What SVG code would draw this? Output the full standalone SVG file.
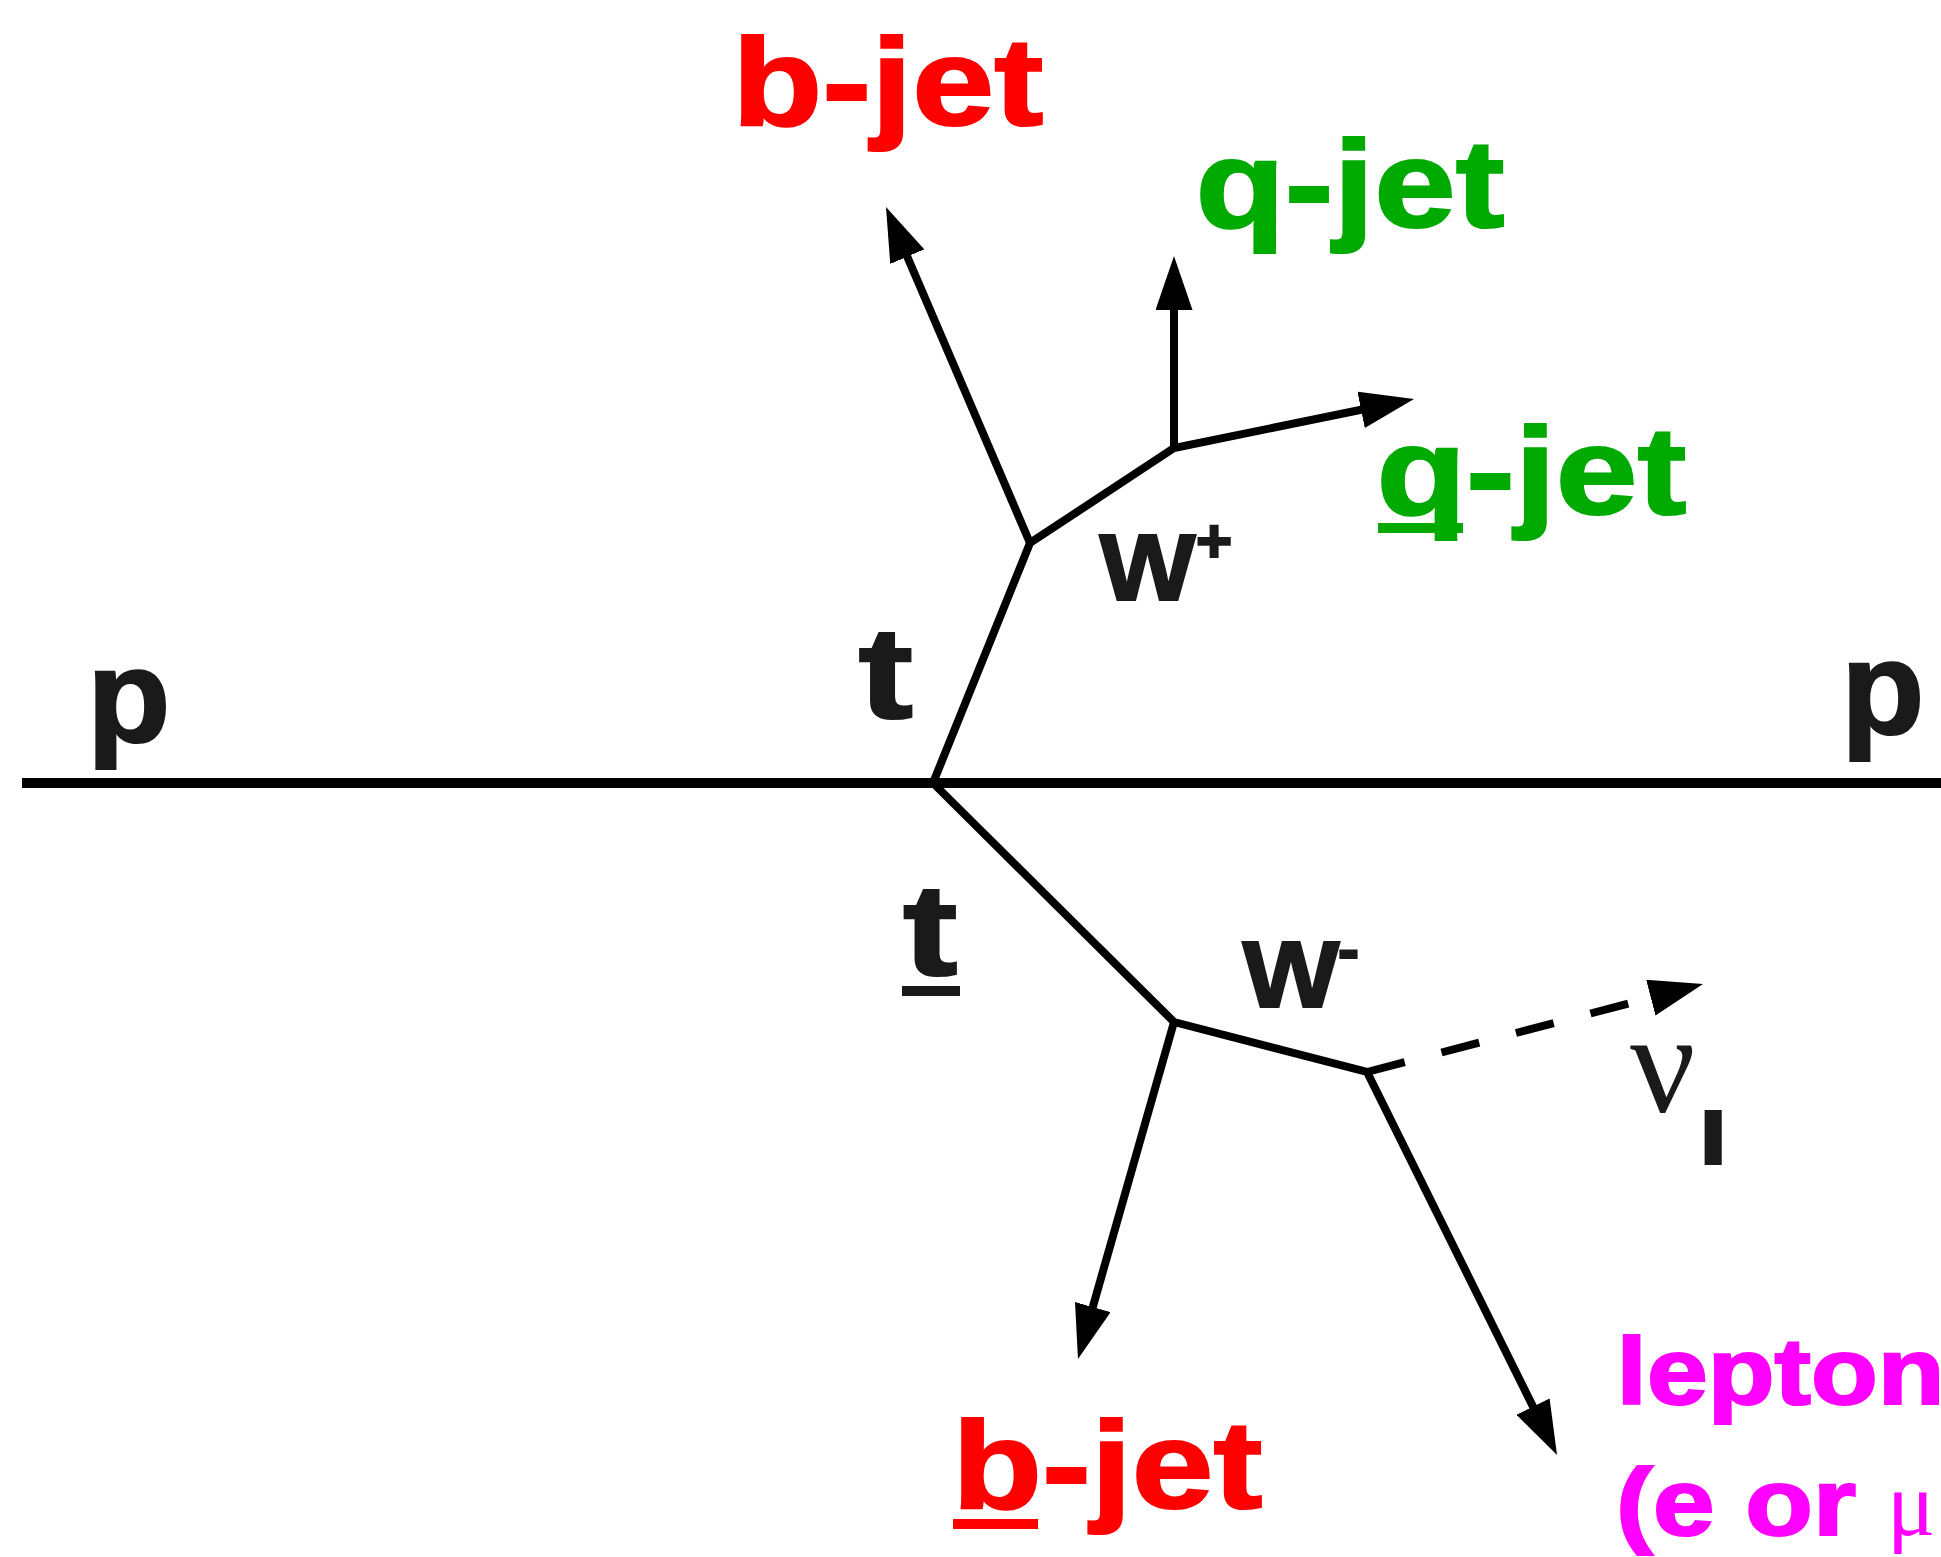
<svg xmlns="http://www.w3.org/2000/svg" width="1941" height="1557" viewBox="0 0 1941 1557">
<style>
.b{font-family:"Liberation Sans",Arial,sans-serif;font-weight:bold;stroke-width:2.2;stroke-linejoin:miter}
.k{fill:#1a1a1a;stroke:#1a1a1a}
.red{fill:#ff0000;stroke:#ff0000}
.grn{fill:#00aa00;stroke:#00aa00}
.mag{fill:#ff00ff;stroke:#ff00ff}
.ln{fill:none;stroke:#000;stroke-width:8;stroke-linejoin:miter}
</style>
<defs>
<marker id="ah" markerUnits="userSpaceOnUse" viewBox="0 0 54 37" markerWidth="54" markerHeight="37" refX="24" refY="18.5" orient="auto">
<path d="M0,0 L54,18.5 L0,37 z" fill="#000"/>
</marker>
<marker id="ah0" markerUnits="userSpaceOnUse" viewBox="0 0 54 37" markerWidth="54" markerHeight="37" refX="0" refY="18.5" orient="auto">
<path d="M0,0 L54,18.5 L0,37 z" fill="#000"/>
</marker>
</defs>
<rect width="1941" height="1557" fill="#fff"/>
<g id="connectors">
<line x1="22" y1="783" x2="1941" y2="783" stroke="#000" stroke-width="10"/>
<path class="ln" d="M933,783 L1030,543 L1174,448 L1384.6,405" marker-end="url(#ah)"/>
<path class="ln" d="M1030,543 L897.8,234.6" marker-end="url(#ah)"/>
<path class="ln" d="M1174,448 L1174,286" marker-end="url(#ah)"/>
<path class="ln" d="M933,783 L1174,1022 L1367,1072 L1543.7,1428.1" marker-end="url(#ah)"/>
<path class="ln" d="M1174,1022 L1086.2,1330.1" marker-end="url(#ah)"/>
<path class="ln" d="M1367,1072 L1650.8,997.7" stroke-dasharray="39 38" marker-end="url(#ah0)"/>
</g>
<g id="p-left"><text class="b k" x="87" y="742" font-size="131" textLength="83.5" lengthAdjust="spacingAndGlyphs">p</text></g>
<g id="p-right"><text class="b k" x="1841" y="734" font-size="131" textLength="83.5" lengthAdjust="spacingAndGlyphs">p</text></g>
<g id="t-top"><text class="b k" x="858.5" y="718" font-size="129" textLength="54.5" lengthAdjust="spacingAndGlyphs">t</text></g>
<g id="t-bar"><text class="b k" x="903" y="975" font-size="129" textLength="54.5" lengthAdjust="spacingAndGlyphs">t</text><rect x="902" y="986" width="58" height="10" fill="#1a1a1a"/></g>
<g id="w-plus"><text class="b k" x="1099.5" y="600" font-size="94" textLength="96" lengthAdjust="spacingAndGlyphs">W</text><text class="b k" x="1196" y="562" font-size="62">+</text></g>
<g id="w-minus"><text class="b k" x="1242.5" y="1007" font-size="94" textLength="97" lengthAdjust="spacingAndGlyphs">W</text><text class="b k" x="1338" y="970" font-size="62" textLength="21" lengthAdjust="spacingAndGlyphs">-</text></g>
<g id="bjet-top"><text class="b red" x="732.2" y="124.5" font-size="125" textLength="311.1" lengthAdjust="spacingAndGlyphs">b-jet</text></g>
<g id="qjet-top"><text class="b grn" x="1195.4" y="226.5" font-size="125" textLength="309" lengthAdjust="spacingAndGlyphs">q-jet</text></g>
<g id="qbar-jet"><text class="b grn" x="1376.4" y="514" font-size="125" textLength="310" lengthAdjust="spacingAndGlyphs">q-jet</text><rect x="1378" y="523" width="85" height="10" fill="#00aa00"/></g>
<g id="bbar-jet"><text class="b red" x="952.3" y="1508" font-size="125" textLength="310.1" lengthAdjust="spacingAndGlyphs">b-jet</text><rect x="953" y="1519" width="85" height="10" fill="#ff0000"/></g>
<g id="neutrino"><text x="1630" y="1112" font-size="145" font-family="'Liberation Serif','Times New Roman',serif" fill="#1a1a1a">ν</text><text class="b k" x="1699" y="1164" font-size="73" textLength="28.5" lengthAdjust="spacingAndGlyphs">l</text></g>
<g id="lepton"><text class="b mag" x="1616.5" y="1404" font-size="94.5" textLength="328" lengthAdjust="spacingAndGlyphs">lepton</text><text class="b mag" x="1616" y="1535" font-size="94.5" textLength="240" lengthAdjust="spacingAndGlyphs">(e or</text><text x="1887" y="1535" font-size="90" font-family="'Liberation Serif','Times New Roman',serif" fill="#ff00ff">μ</text></g>
</svg>
